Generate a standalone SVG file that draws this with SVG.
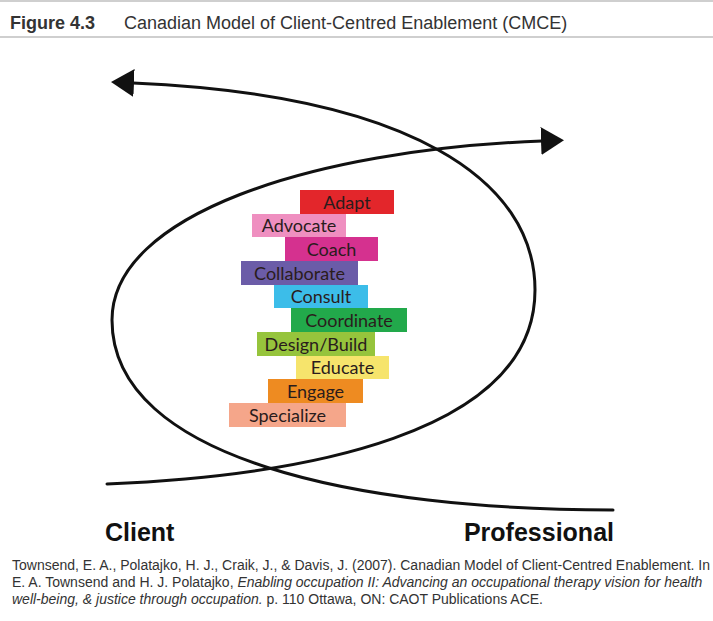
<svg xmlns="http://www.w3.org/2000/svg" width="713" height="621" viewBox="0 0 713 621">
  <style>
    .rule { stroke: #cfcfcf; stroke-width: 2; }
    .head { font-family: "Liberation Sans", Arial, sans-serif; font-size: 18px; fill: #333; }
    .loop { fill: none; stroke: #111; stroke-width: 3; stroke-linecap: round; marker-end: url(#tip); }
    .bar rect { stroke: none; }
    .bar text { font-family: Lato, "Open Sans", sans-serif; font-size: 18px; fill: #2a1c1c; text-anchor: middle; }
    .pole { font-family: "Liberation Sans", Arial, sans-serif; font-weight: bold; font-size: 25px; fill: #111; }
    .cite { font-family: "Liberation Sans", Arial, sans-serif; font-size: 14px; fill: #333; }
  </style>
  <defs>
    <marker id="tip" markerUnits="userSpaceOnUse" markerWidth="24" markerHeight="30" refX="1" refY="14" orient="auto">
      <path d="M0,0 L23,14 L0,28 Z" fill="#111"/>
    </marker>
  </defs>

  <rect width="713" height="621" fill="#fff"/>

  <!-- title strip -->
  <g id="title">
    <line class="rule" x1="0" y1="1" x2="713" y2="1"/>
    <text class="head" x="10" y="29" font-weight="bold" fill="#111">Figure 4.3</text>
    <text class="head" x="124" y="29">Canadian Model of Client-Centred Enablement (CMCE)</text>
    <line class="rule" x1="0" y1="37" x2="713" y2="37"/>
  </g>

  <!-- the two interlaced curves -->
  <g id="connectors">
    <path id="curve-to-client" class="loop" d="M107,484 C300,476 535,435 535,290 C535,180 410,95 133,83"/>
    <path id="curve-to-professional" class="loop" d="M613,510 C360,510 112,460 112,320 C112,215 310,150 542,141"/>
  </g>

  <!-- enablement skills -->
  <g id="adapt" class="bar"><rect x="300" y="190" width="94" height="24" fill="#e3262b"/><text x="347" y="208.5">Adapt</text></g>
  <g id="advocate" class="bar"><rect x="252" y="214" width="94" height="23" fill="#ef8fc0"/><text x="299" y="232">Advocate</text></g>
  <g id="coach" class="bar"><rect x="285" y="237" width="93" height="24" fill="#d5318f"/><text x="331.5" y="255.5">Coach</text></g>
  <g id="collaborate" class="bar"><rect x="241" y="261" width="117" height="24" fill="#6b5ca8"/><text x="299.5" y="279.5">Collaborate</text></g>
  <g id="consult" class="bar"><rect x="274" y="285" width="94" height="23" fill="#3cbde9"/><text x="321" y="303">Consult</text></g>
  <g id="coordinate" class="bar"><rect x="291" y="308" width="116" height="24" fill="#22a94b"/><text x="349" y="326.5">Coordinate</text></g>
  <g id="design-build" class="bar"><rect x="257" y="332" width="118" height="24" fill="#96c43c"/><text x="316" y="350.5">Design/Build</text></g>
  <g id="educate" class="bar"><rect x="296" y="356" width="93" height="23" fill="#f6e46c"/><text x="342.5" y="374">Educate</text></g>
  <g id="engage" class="bar"><rect x="268" y="379" width="95" height="24" fill="#ee8b21"/><text x="315.5" y="397.5">Engage</text></g>
  <g id="specialize" class="bar"><rect x="229" y="403" width="117" height="24" fill="#f5a68a"/><text x="287.5" y="421.5">Specialize</text></g>

  <!-- poles -->
  <g id="client"><text class="pole" x="105" y="541">Client</text></g>
  <g id="professional"><text class="pole" x="614" y="541" text-anchor="end">Professional</text></g>

  <!-- reference -->
  <g id="citation">
    <text class="cite" x="12" y="570">Townsend, E. A., Polatajko, H. J., Craik, J., &amp; Davis, J. (2007). Canadian Model of Client-Centred Enablement. In</text>
    <text class="cite" x="12" y="587">E. A. Townsend and H. J. Polatajko, <tspan font-style="italic">Enabling occupation II: Advancing an occupational therapy vision for health</tspan></text>
    <text class="cite" x="12" y="604"><tspan font-style="italic">well-being, &amp; justice through occupation.</tspan> p. 110 Ottawa, ON: CAOT Publications ACE.</text>
  </g>
</svg>
